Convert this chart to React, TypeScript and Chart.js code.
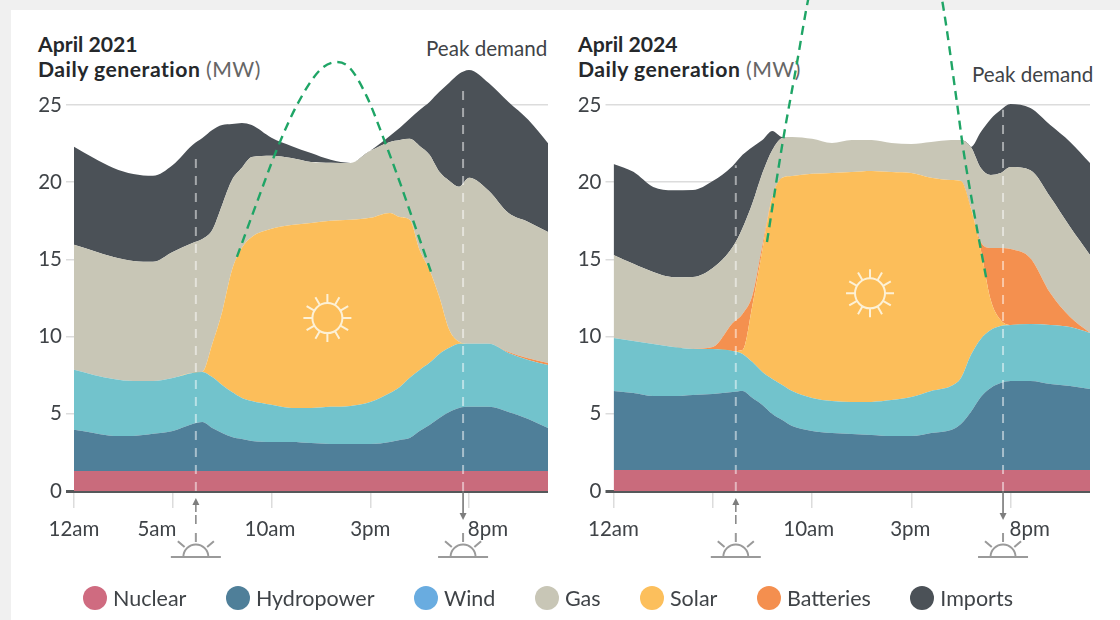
import React, { useEffect, useRef } from "react";
import { Chart, registerables } from "chart.js";

Chart.register(...registerables);

const FONT = "Lato, 'Open Sans', sans-serif";
const INK = "#3f4347";

const seriesNames = ["Nuclear", "Hydropower", "Wind", "Gas", "Solar", "Batteries", "Imports"];
const legendColors = ["#cf6b80", "#4f7f99", "#69ace0", "#c8c6b6", "#fcbf5c", "#f48f4f", "#4b5157"];
const nuclearColor = "#c96b7c";
const hydroColor = "#4f7f99";
const windColor = "#72c3cc";
const solarColor = "#fcbe5a";
const batteryColor = "#f4904f";
const gasColor = "#c8c6b6";
const importsColor = "#4b5157";

const yTicks = [0, 5, 10, 15, 20, 25];
const xTickHours = [0, 5, 10, 15, 20];

// ---- April 2021 ----
const hours2021 = [0, 1, 2, 3, 4, 5, 6, 6.5, 7, 7.5, 8, 8.5, 9, 10, 11, 12, 13, 14, 15, 16, 16.5, 17, 17.5, 18, 18.5, 19, 19.5, 20, 21, 22, 23, 24];
const nuclear2021 = hours2021.map(() => 1.3);
const hydro2021 = [2.66, 2.46, 2.27, 2.27, 2.4, 2.59, 3.04, 3.17, 2.78, 2.46, 2.2, 2.07, 1.94, 1.88, 1.88, 1.81, 1.75, 1.75, 1.75, 1.88, 2.01, 2.14, 2.59, 2.98, 3.43, 3.82, 4.08, 4.15, 4.15, 3.82, 3.37, 2.78];
const wind2021 = [3.89, 3.76, 3.69, 3.56, 3.43, 3.43, 3.3, 3.24, 3.3, 3.11, 2.91, 2.66, 2.59, 2.4, 2.2, 2.27, 2.4, 2.46, 2.72, 3.17, 3.43, 3.89, 3.95, 4.02, 4.15, 4.15, 4.15, 4.08, 4.08, 3.82, 3.82, 4.08];
const solar2021 = [0, 0, 0, 0, 0, 0, 0, 0, 2.14, 4.73, 7.9, 9.72, 10.62, 11.4, 11.85, 11.98, 12.05, 12.05, 11.92, 11.66, 11.01, 10.23, 7.77, 6.02, 3.69, 1.17, 0.13, 0, 0, 0, 0, 0];
const batteries2021 = [0, 0, 0, 0, 0, 0, 0, 0, 0, 0, 0, 0, 0, 0, 0, 0, 0, 0, 0, 0, 0, 0, 0, 0, 0, 0, 0, 0, 0, 0.06, 0.1, 0.13];
const gas2021 = [8.1, 8.03, 7.9, 7.77, 7.71, 8.16, 8.42, 8.61, 7.38, 6.93, 5.83, 5.18, 5.18, 4.73, 4.34, 3.95, 3.76, 3.69, 4.34, 4.6, 4.99, 5.25, 6.74, 7.45, 8.1, 9.65, 10.04, 10.75, 9.91, 9.0, 8.84, 8.48];
const imports2021 = [6.35, 6.02, 5.76, 5.63, 5.57, 5.63, 6.35, 6.54, 6.48, 5.18, 3.63, 2.91, 2.07, 1.17, 0.78, 0.58, 0.19, 0, 0, 0.39, 0.78, 1.3, 2.33, 3.43, 5.18, 6.35, 7.32, 6.99, 6.99, 7.19, 6.61, 5.76];
const greenHours2021 = [8.25, 9.27, 10.28, 11.29, 12.46, 13.32, 13.97, 14.84, 15.65, 16.51, 17.16, 18.13];
const greenValues2021 = [15.16, 18.72, 22.15, 25.0, 27.27, 27.78, 27.39, 25.51, 22.92, 19.95, 17.56, 14.0];

// ---- April 2024 ----
const hours2024 = [0, 1, 2, 3, 4, 5, 6, 6.5, 7, 7.5, 8, 8.5, 9, 10, 11, 12, 13, 14, 15, 16, 17, 17.5, 18, 18.5, 19, 19.5, 20, 21, 22, 23, 24];
const nuclear2024 = hours2024.map(() => 1.36);
const hydro2024 = [5.12, 4.99, 4.79, 4.79, 4.86, 4.92, 5.05, 5.12, 4.66, 4.21, 3.63, 3.24, 2.85, 2.53, 2.4, 2.33, 2.27, 2.2, 2.2, 2.4, 2.59, 2.98, 3.76, 4.73, 5.31, 5.63, 5.76, 5.76, 5.57, 5.44, 5.25];
const wind2024 = [3.43, 3.37, 3.37, 3.17, 2.98, 2.91, 2.66, 2.4, 2.33, 2.14, 2.27, 2.27, 2.27, 2.14, 2.07, 2.07, 2.14, 2.33, 2.53, 2.72, 2.85, 2.98, 3.69, 3.76, 3.76, 3.69, 3.63, 3.69, 3.82, 3.82, 3.63];
const solar2024 = [0, 0, 0, 0, 0, 0, 0, 0.26, 3.69, 7.9, 11.79, 13.41, 13.92, 14.51, 14.77, 14.9, 14.96, 14.77, 14.51, 13.8, 13.34, 12.76, 9.52, 5.76, 1.94, 0.39, 0, 0, 0, 0, 0];
const batteries2024 = [0, 0, 0, 0, 0, 0.13, 1.81, 2.33, 0.65, 0.32, 0, 0, 0, 0, 0, 0, 0, 0, 0, 0, 0, 0, 0, 0.52, 3.37, 4.66, 4.92, 4.27, 2.07, 0.65, 0];
const gas2024 = [5.38, 4.99, 4.66, 4.53, 4.66, 5.12, 4.92, 5.57, 5.96, 4.66, 3.04, 2.59, 2.53, 2.27, 1.94, 2.07, 2.01, 1.88, 1.88, 2.33, 2.59, 2.66, 3.95, 4.79, 4.73, 4.86, 5.31, 5.7, 6.22, 5.83, 5.05];
const imports2024 = [5.89, 5.96, 5.51, 5.63, 5.63, 5.63, 5.25, 4.73, 3.63, 2.14, 1.23, 0.06, 0, 0, 0, 0, 0, 0, 0, 0, 0, 0, 0, 2.33, 3.63, 4.08, 4.08, 4.02, 4.66, 5.51, 5.96];
const greenHours2024 = [7.73, 8.54, 9.24, 9.8, 10.9, 13.17, 15.69, 16.55, 17.3, 17.6, 18.11, 18.82];
const greenValues2024 = [16.13, 22.73, 27.72, 31.8, 37.6, 39.9, 36.66, 31.8, 25.13, 22.28, 18.39, 13.47];

// Sunrise and sunset markers: hour and height of the dashed line
const sunrise2021 = { hour: 6.17, top: 21.8 };
const sunset2021 = { hour: 19.7, top: 26.2 };
const sunrise2024 = { hour: 6.16, top: 21.1 };
const sunset2024 = { hour: 19.62, top: 24.7 };
const sunCentre2021 = { hour: 12.83, value: 11.2 };
const sunCentre2024 = { hour: 12.92, value: 12.8 };

const labelHours2021 = [0, 4.2, 9.92, 15, 20.96];
const labelText2021 = ["12am", "5am", "10am", "3pm", "8pm"];
const labelHours2024 = [0, 9.83, 14.95, 20.96];
const labelText2024 = ["12am", "10am", "3pm", "8pm"];

const Y_MAX = 31.8;

function drawRays(ctx: CanvasRenderingContext2D, cx: number, cy: number, r1: number, r2: number, angles: number[]) {
  ctx.beginPath();
  for (const a of angles) {
    ctx.moveTo(cx + Math.cos(a) * r1, cy + Math.sin(a) * r1);
    ctx.lineTo(cx + Math.cos(a) * r2, cy + Math.sin(a) * r2);
  }
  ctx.stroke();
}

function horizonSun(ctx: CanvasRenderingContext2D, cx: number, base: number) {
  ctx.strokeStyle = "#9a9a9a";
  ctx.lineWidth = 2;
  ctx.beginPath();
  ctx.moveTo(cx - 25, base);
  ctx.lineTo(cx + 25, base);
  ctx.stroke();
  ctx.beginPath();
  ctx.arc(cx, base, 12.5, Math.PI, 2 * Math.PI);
  ctx.stroke();
  drawRays(ctx, cx, base, 15, 24, [-Math.PI / 2, -Math.PI / 2 - 0.85, -Math.PI / 2 + 0.85]);
}

const decorPlugin = {
  id: "decor",
  afterDraw(chart: any) {
    const o = chart.options.plugins.decor;
    const { ctx, scales } = chart;
    const x = scales.x;
    const y = scales.y;
    const base = y.getPixelForValue(0);
    ctx.save();
    // sun inside the solar area
    const sx = x.getPixelForValue(o.centre.hour);
    const sy = y.getPixelForValue(o.centre.value);
    ctx.strokeStyle = "#fdf1d6";
    ctx.lineWidth = 2;
    ctx.beginPath();
    ctx.arc(sx, sy, 15, 0, 2 * Math.PI);
    ctx.stroke();
    const angles = Array.from({ length: 12 }, (_, i) => (i * Math.PI) / 6 + Math.PI / 2);
    drawRays(ctx, sx, sy, 15, 24, angles);

    // sunrise arrow and icon
    const rx = x.getPixelForValue(o.sunrise.hour);
    ctx.strokeStyle = "#8a8a8a";
    ctx.fillStyle = "#7d7d7d";
    ctx.lineWidth = 1.6;
    ctx.setLineDash([9, 3]);
    ctx.beginPath();
    ctx.moveTo(rx, base + 33);
    ctx.lineTo(rx, base + 12);
    ctx.stroke();
    ctx.setLineDash([]);
    ctx.beginPath();
    ctx.moveTo(rx, base + 7);
    ctx.lineTo(rx - 3.5, base + 14);
    ctx.lineTo(rx + 3.5, base + 14);
    ctx.closePath();
    ctx.fill();
    horizonSun(ctx, rx, base + 66);

    // sunset arrow and icon
    const tx = x.getPixelForValue(o.sunset.hour);
    ctx.strokeStyle = "#777";
    ctx.lineWidth = 1.6;
    ctx.beginPath();
    ctx.moveTo(tx, base);
    ctx.lineTo(tx, base + 22);
    ctx.stroke();
    ctx.beginPath();
    ctx.moveTo(tx, base + 29);
    ctx.lineTo(tx - 3.5, base + 22);
    ctx.lineTo(tx + 3.5, base + 22);
    ctx.closePath();
    ctx.fill();
    horizonSun(ctx, tx, base + 66);
    ctx.restore();
  },
};

function points(hours: number[], values: number[]) {
  return hours.map((h, i) => ({ x: h, y: values[i] }));
}

function area(label: string, color: string, hours: number[], values: number[], first = false) {
  return {
    label,
    data: points(hours, values),
    stack: "generation",
    order: 1,
    backgroundColor: color,
    borderColor: color,
    borderWidth: 0,
    pointRadius: 0,
    fill: first ? "origin" : "-1",
    cubicInterpolationMode: "monotone",
  };
}

function marker(label: string, m: { hour: number; top: number }) {
  return {
    label,
    data: [{ x: m.hour, y: 0 }, { x: m.hour, y: m.top }],
    stack: label,
    order: 0,
    borderColor: "rgba(255,255,255,0.5)",
    borderWidth: 2,
    borderDash: [9, 8],
    pointRadius: 0,
    fill: false,
  };
}

function makeConfig(p: any) {
  const datasets = [
    area("Nuclear", nuclearColor, p.hours, p.nuclear, true),
    area("Hydropower", hydroColor, p.hours, p.hydro),
    area("Wind", windColor, p.hours, p.wind),
    area("Solar", solarColor, p.hours, p.solar),
    area("Batteries", batteryColor, p.hours, p.batteries),
    area("Gas", gasColor, p.hours, p.gas),
    area("Imports", importsColor, p.hours, p.imports),
    marker("Sunrise", p.sunrise),
    marker("Sunset", p.sunset),
    {
      label: "Demand curve",
      data: points(p.greenHours, p.greenValues),
      stack: "curve",
      order: -1,
      borderColor: "#1fa566",
      borderWidth: 2.4,
      borderDash: [9, 6],
      pointRadius: 0,
      fill: false,
      cubicInterpolationMode: "monotone",
    },
  ];
  return {
    type: "line",
    data: { datasets },
    plugins: [decorPlugin],
    options: {
      animation: false,
      responsive: false,
      layout: { padding: { top: 0, left: 0, bottom: 0, right: p.rightPad } },
      plugins: {
        legend: { display: false },
        tooltip: { enabled: false },
        decor: { centre: p.centre, sunrise: p.sunrise, sunset: p.sunset },
      },
      scales: {
        x: {
          type: "linear",
          min: 0,
          max: 24,
          position: "bottom",
          weight: 0,
          afterBuildTicks: (s: any) => {
            s.ticks = xTickHours.map((value) => ({ value }));
          },
          afterFit: (s: any) => {
            s.height = 17;
          },
          border: { display: false },
          grid: { drawOnChartArea: false, drawTicks: true, tickLength: 17, color: "#dcdcdc", lineWidth: 1.5 },
          ticks: { display: false },
        },
        xl: {
          type: "linear",
          axis: "x",
          min: 0,
          max: 24,
          position: "bottom",
          weight: 1,
          afterBuildTicks: (s: any) => {
            s.ticks = p.labelHours.map((value: number) => ({ value }));
          },
          afterFit: (s: any) => {
            s.height = 112;
          },
          border: { display: false },
          grid: { display: false },
          ticks: {
            autoSkip: false,
            maxRotation: 0,
            padding: 1,
            color: INK,
            font: { family: FONT, size: 20.5 },
            callback: (v: number) => p.labelText[p.labelHours.indexOf(v)],
          },
        },
        y: {
          stacked: true,
          min: 0,
          max: Y_MAX,
          position: "left",
          afterBuildTicks: (s: any) => {
            s.ticks = yTicks.map((value) => ({ value }));
          },
          afterFit: (s: any) => {
            s.width = p.axisWidth;
            s.paddingTop = 0;
            s.paddingBottom = 0;
          },
          border: { display: false },
          grid: {
            tickLength: 8,
            color: (c: any) => (c.tick && c.tick.value === 0 ? "#55585a" : "#dcdcdc"),
            lineWidth: (c: any) => (c.tick && c.tick.value === 0 ? 3 : 1.5),
          },
          ticks: { padding: 4, color: INK, font: { family: FONT, size: 20.5 } },
        },
      },
    },
  };
}

const panel2021 = {
  hours: hours2021,
  nuclear: nuclear2021,
  hydro: hydro2021,
  wind: wind2021,
  solar: solar2021,
  batteries: batteries2021,
  gas: gas2021,
  imports: imports2021,
  greenHours: greenHours2021,
  greenValues: greenValues2021,
  sunrise: sunrise2021,
  sunset: sunset2021,
  centre: sunCentre2021,
  labelHours: labelHours2021,
  labelText: labelText2021,
  axisWidth: 74,
  rightPad: 12,
};

const panel2024 = {
  hours: hours2024,
  nuclear: nuclear2024,
  hydro: hydro2024,
  wind: wind2024,
  solar: solar2024,
  batteries: batteries2024,
  gas: gas2024,
  imports: imports2024,
  greenHours: greenHours2024,
  greenValues: greenValues2024,
  sunrise: sunrise2024,
  sunset: sunset2024,
  centre: sunCentre2024,
  labelHours: labelHours2024,
  labelText: labelText2024,
  axisWidth: 73.5,
  rightPad: 30,
};

const textBase: React.CSSProperties = { position: "absolute", fontFamily: FONT, color: INK, whiteSpace: "nowrap", lineHeight: "24px" };

function Heading({ left, year }: { left: number; year: string }) {
  return (
    <div style={{ ...textBase, left, top: 32, fontSize: 21.2, fontWeight: 700, color: "#25282b", lineHeight: "25px" }}>
      <div>{year}</div>
      <div style={{ letterSpacing: 0.5 }}>
        Daily generation <span style={{ fontWeight: 400, color: "#666" }}>(MW)</span>
      </div>
    </div>
  );
}

export default function App() {
  const leftRef = useRef<HTMLCanvasElement>(null);
  const rightRef = useRef<HTMLCanvasElement>(null);
  useEffect(() => {
    const a = new Chart(leftRef.current as any, makeConfig(panel2021) as any);
    const b = new Chart(rightRef.current as any, makeConfig(panel2024) as any);
    return () => {
      a.destroy();
      b.destroy();
    };
  }, []);
  return (
    <div style={{ position: "fixed", left: 0, top: 0, width: 1120, height: 620, overflow: "hidden", background: "#f0f0f0" }}>
      <div style={{ position: "absolute", left: 11, top: 10, width: 1109, height: 610, background: "#fff", filter: "blur(0.7px)" }}>
        <div style={{ position: "absolute", left: -11, top: -10, width: 1120, height: 620 }}>
          <Heading left={38} year="April 2021" />
          <Heading left={578} year="April 2024" />
          <div style={{ ...textBase, left: 426, top: 36, fontSize: 20.6 }}>Peak demand</div>
          <div style={{ ...textBase, left: 972, top: 62, fontSize: 20.6 }}>Peak demand</div>
          <canvas ref={leftRef} width={560} height={620} style={{ position: "absolute", left: 0, top: 0, width: 560, height: 620 }} />
          <canvas ref={rightRef} width={580} height={620} style={{ position: "absolute", left: 540, top: 0, width: 580, height: 620 }} />
          <div style={{ position: "absolute", left: 83, top: 586, display: "flex", gap: 39.5, alignItems: "center", height: 24 }}>
            {seriesNames.map((name, i) => (
              <div key={name} style={{ display: "flex", alignItems: "center", gap: 6 }}>
                <span style={{ width: 24, height: 24, borderRadius: 12, background: legendColors[i], display: "inline-block" }} />
                <span style={{ fontFamily: FONT, fontSize: 21.5, color: INK }}>{name}</span>
              </div>
            ))}
          </div>
        </div>
      </div>
    </div>
  );
}
